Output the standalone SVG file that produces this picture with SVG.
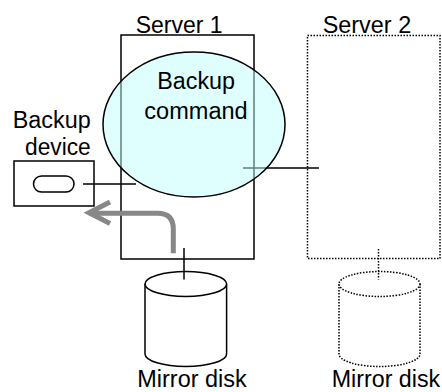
<svg xmlns="http://www.w3.org/2000/svg" width="442" height="392" viewBox="0 0 442 392">
<style>
.t{font-family:"Liberation Sans",Arial,sans-serif;font-size:23px;fill:#000}
.solid{fill:#fff;stroke:#000;stroke-width:1.5}
.dot{fill:#fff;stroke:#000;stroke-width:1.5;stroke-dasharray:1.5 1.5}
.ln{fill:none;stroke:#000;stroke-width:1.5}
</style>
<g id="server1"><rect class="solid" x="121" y="35" width="133" height="224"/></g>
<g id="server2"><rect class="dot" x="307.5" y="35.5" width="132.5" height="223"/></g>
<g id="backup-device">
<rect class="solid" x="14" y="161" width="80" height="45"/>
<rect class="solid" x="33.5" y="176" width="40.5" height="16" rx="8"/>
</g>
<g id="disk1">
<path class="solid" d="M145,284 v70 a40.8,12.5 0 0 0 81.6,0 v-70"/>
<ellipse class="solid" cx="185.8" cy="284" rx="40.8" ry="12.5"/>
</g>
<g id="disk2">
<path class="dot" d="M339,284 v70 a40.5,12.5 0 0 0 81,0 v-70"/>
<ellipse class="dot" cx="379.5" cy="284" rx="40.5" ry="12.5"/>
</g>
<g id="connectors">
<line class="ln" x1="243" y1="168" x2="319" y2="168"/>
<line class="ln" x1="83" y1="184" x2="136" y2="184"/>
<line class="ln" x1="184" y1="248" x2="184" y2="279.5"/>
<line class="ln" x1="378.5" y1="249" x2="378.5" y2="279.5" stroke-dasharray="1.5 1.5"/>
<path d="M173.3,253.3 V229 Q173.3,213.3 157.5,213.3 H89" fill="none" stroke="#888" stroke-width="5"/>
<path d="M110,202 L89,212.8 L110,223.5" fill="none" stroke="#888" stroke-width="5"/>
</g>
<g id="backup-command">
<ellipse cx="194" cy="124.5" rx="91" ry="72.5" fill="#c0ffff" fill-opacity="0.5" stroke="#000" stroke-width="1.5"/>
</g>
<g id="labels">
<text class="t" x="135.7" y="32.5" textLength="87" lengthAdjust="spacingAndGlyphs">Server 1</text>
<text class="t" x="322.7" y="32.5" textLength="88.5" lengthAdjust="spacingAndGlyphs">Server 2</text>
<text class="t" x="12.7" y="128.3" textLength="78" lengthAdjust="spacingAndGlyphs">Backup</text>
<text class="t" x="25" y="155" textLength="65.7" lengthAdjust="spacingAndGlyphs">device</text>
<text class="t" x="157.3" y="89" textLength="77.7" lengthAdjust="spacingAndGlyphs">Backup</text>
<text class="t" x="144.3" y="119" textLength="103.4" lengthAdjust="spacingAndGlyphs">command</text>
<text class="t" x="137.3" y="386.5" textLength="109.4" lengthAdjust="spacingAndGlyphs">Mirror disk</text>
<text class="t" x="331.7" y="386.5" textLength="108.5" lengthAdjust="spacingAndGlyphs">Mirror disk</text>
</g>
</svg>
